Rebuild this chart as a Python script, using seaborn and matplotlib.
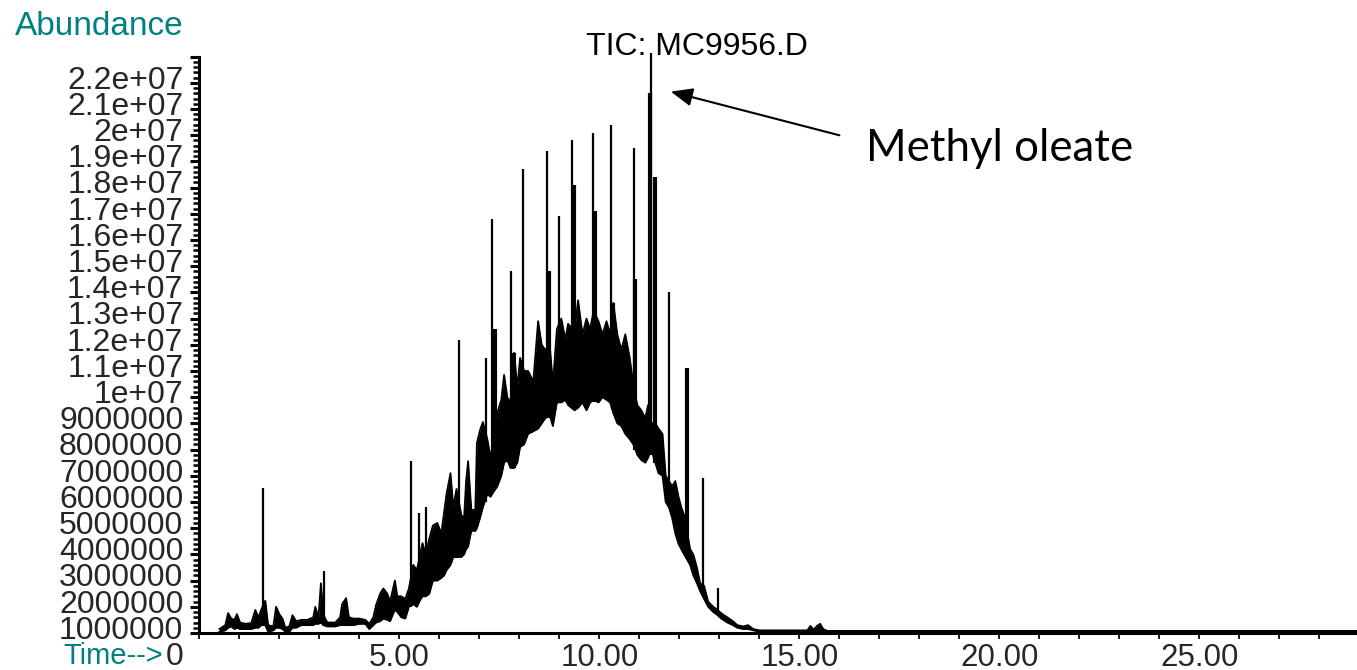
import matplotlib
matplotlib.use('Agg')
import matplotlib.pyplot as plt
import matplotlib.transforms as mtransforms
from matplotlib.ticker import MultipleLocator
import seaborn as sns

# TIC chromatogram, abundance in units of 1e6, time in minutes
# envelope of the dense trace (lower / upper edge)
envTime = [0.50, 0.65, 0.72, 0.80, 0.88, 0.94, 1.02, 1.15, 1.30, 1.40,
           1.48, 1.55, 1.65, 1.72, 1.85, 1.92, 2.00, 2.08, 2.15, 2.25,
           2.33, 2.42, 2.55, 2.70, 2.85, 2.90, 2.98, 3.04, 3.10, 3.20,
           3.40, 3.52, 3.57, 3.67, 3.74, 3.85, 4.00, 4.15, 4.25, 4.35,
           4.42, 4.52, 4.60, 4.70, 4.77, 4.89, 4.95, 5.05, 5.15, 5.24,
           5.35, 5.44, 5.52, 5.58, 5.66, 5.75, 5.84, 5.95, 6.05, 6.12,
           6.18, 6.28, 6.35, 6.43, 6.55, 6.62, 6.67, 6.72, 6.80, 6.90,
           6.94, 7.02, 7.09, 7.20, 7.28, 7.36, 7.45, 7.55, 7.62, 7.70,
           7.78, 7.87, 7.95, 8.02, 8.12, 8.22, 8.35, 8.47, 8.56, 8.65,
           8.76, 8.84, 8.94, 9.05, 9.15, 9.22, 9.38, 9.47, 9.58, 9.68,
           9.77, 9.86, 9.98, 10.08, 10.18, 10.27, 10.35, 10.45, 10.55, 10.65,
           10.76, 10.85, 10.95, 11.05, 11.15, 11.22, 11.30, 11.40, 11.48, 11.58,
           11.66, 11.74, 11.82, 11.90, 11.98, 12.05, 12.12, 12.27, 12.35, 12.44,
           12.52, 12.62, 12.72, 12.85, 12.94, 13.05, 13.20, 13.34, 13.45, 13.60,
           13.72, 13.85, 14.00, 15.20, 15.28, 15.36, 15.44, 15.52, 15.60, 15.70, 28.94]
envLow = [0.05, 0.10, 0.20, 0.25, 0.15, 0.20, 0.15, 0.15, 0.15, 0.20,
          0.20, 0.30, 0.30, 0.05, 0.10, 0.20, 0.20, 0.15, 0.05, 0.05,
          0.20, 0.20, 0.30, 0.30, 0.30, 0.35, 0.35, 0.40, 0.30, 0.25,
          0.25, 0.30, 0.30, 0.30, 0.30, 0.30, 0.35, 0.35, 0.15, 0.30,
          0.40, 0.45, 0.55, 0.50, 0.45, 0.90, 0.80, 0.60, 0.55, 1.00,
          1.10, 1.00, 1.26, 1.40, 1.40, 1.50, 2.00, 2.00, 2.10, 2.20,
          2.40, 2.60, 2.90, 2.90, 2.90, 3.00, 3.20, 3.30, 3.90, 3.90,
          4.00, 4.40, 4.80, 5.30, 5.20, 5.40, 5.60, 6.00, 6.50, 6.60,
          6.30, 6.30, 6.50, 7.10, 7.20, 7.60, 7.70, 7.80, 8.00, 8.20,
          8.30, 7.90, 8.80, 8.80, 8.90, 8.70, 8.50, 8.60, 8.80, 8.50,
          8.80, 8.90, 8.80, 9.00, 8.90, 8.80, 8.40, 8.00, 7.90, 7.60,
          7.40, 7.20, 6.80, 6.60, 6.50, 6.70, 7.00, 6.50, 6.10, 6.00,
          5.00, 4.80, 4.40, 3.80, 3.40, 3.20, 3.00, 2.60, 2.20, 1.90,
          1.60, 1.30, 1.00, 0.80, 0.70, 0.55, 0.40, 0.30, 0.20, 0.15,
          0.15, 0.10, 0.05, 0.05, 0.05, 0.05, 0.05, 0.05, 0.05, 0.05, 0.05]
envHigh = [0.15, 0.30, 0.76, 0.55, 0.50, 0.72, 0.40, 0.35, 0.38, 0.88,
           0.60, 0.90, 1.23, 0.30, 0.25, 1.00, 0.72, 0.55, 0.20, 0.25,
           0.68, 0.45, 0.50, 0.50, 0.60, 1.00, 0.60, 1.90, 0.70, 0.40,
           0.40, 0.60, 1.10, 1.33, 0.60, 0.55, 0.55, 0.50, 0.35, 0.60,
           1.07, 1.50, 1.70, 1.50, 1.20, 2.00, 1.40, 1.40, 1.30, 1.70,
           2.60, 2.40, 3.00, 3.43, 3.00, 3.60, 4.10, 4.20, 3.80, 4.60,
           5.30, 6.10, 4.80, 5.50, 4.50, 4.40, 5.80, 6.56, 4.70, 4.70,
           7.25, 7.75, 8.05, 7.40, 6.70, 7.40, 8.40, 8.90, 9.85, 9.00,
           8.80, 10.70, 9.35, 10.50, 10.00, 10.00, 9.60, 11.90, 11.00, 10.80,
           11.00, 9.50, 11.60, 12.00, 11.20, 11.80, 11.50, 12.70, 11.40, 12.00,
           11.60, 12.30, 11.90, 11.40, 11.90, 11.40, 12.60, 11.40, 10.80, 11.40,
           10.50, 9.50, 8.70, 8.50, 8.20, 8.70, 8.00, 8.00, 7.80, 7.60,
           6.00, 5.80, 5.60, 5.80, 5.20, 4.80, 4.50, 3.20, 3.00, 2.50,
           1.90, 1.80, 1.20, 1.00, 0.90, 0.75, 0.60, 0.45, 0.30, 0.25,
           0.30, 0.15, 0.10, 0.10, 0.27, 0.12, 0.27, 0.35, 0.15, 0.08, 0.08]

# thin single-scan spikes
spikeTime = [1.59, 3.12, 5.28, 5.49, 5.66, 6.49, 7.17, 7.32, 7.79, 8.09,
             8.69, 8.99, 9.32, 9.83, 10.29, 10.87, 11.29, 11.74, 12.59, 12.97]
spikeBase = [0.30, 0.50, 1.00, 1.30, 1.40, 2.90, 5.00, 5.50, 6.50, 7.20,
             8.20, 8.80, 8.60, 8.80, 8.80, 7.30, 6.80, 4.80, 1.50, 0.80]
spikeTop = [5.53, 2.37, 6.56, 4.58, 4.80, 11.20, 10.50, 15.80, 13.80, 17.70,
            18.40, 15.90, 18.80, 19.10, 19.40, 18.50, 22.15, 13.00, 5.90, 1.70]

# the thicker bodies under the big peaks
bodyTime = [7.38, 7.87, 8.74, 9.37, 9.90, 10.35, 10.90, 11.26, 11.38, 12.18]
bodyBase = [5.50, 6.30, 8.20, 8.60, 8.80, 8.50, 7.00, 6.80, 6.50, 2.90]
bodyTop = [11.60, 10.70, 13.80, 17.10, 16.10, 12.60, 13.50, 20.60, 17.40, 10.10]

yTicks = list(range(0, 23))
yTickLabels = ['0', '1000000', '2000000', '3000000', '4000000', '5000000',
               '6000000', '7000000', '8000000', '9000000', '1e+07', '1.1e+07',
               '1.2e+07', '1.3e+07', '1.4e+07', '1.5e+07', '1.6e+07', '1.7e+07',
               '1.8e+07', '1.9e+07', '2e+07', '2.1e+07', '2.2e+07']
xTicks = [5, 10, 15, 20, 25]
xTickLabels = ['5.00', '10.00', '15.00', '20.00', '25.00']

teal = '#008080'

sns.set_theme(style='white')
plt.rcParams['font.family'] = ['Liberation Sans', 'DejaVu Sans']

W, H = 1357, 670
fig = plt.figure(figsize=(W / 100, H / 100), dpi=100)
# axes placed in pixels: x=0 at 199 px, 40 px per minute, y=0 at 633 px, 26.2 px per 1e6
ax = fig.add_axes([199.3 / W, 37 / H, (W - 199.3) / W, 22 * 26.2 / H])
ax.set_xlim(0, (W - 199.3) / 40)
ax.set_ylim(0, 22)

# the trace: band between envelopes plus spikes
ax.fill_between(envTime, envLow, envHigh, color='black', lw=0)
sns.lineplot(x=envTime, y=envHigh, ax=ax, color='black', lw=1.3, estimator=None)
sns.lineplot(x=envTime, y=envLow, ax=ax, color='black', lw=1.3, estimator=None)
ax.vlines(bodyTime, bodyBase, bodyTop, color='black', lw=3.0, clip_on=False)
ax.vlines(spikeTime, spikeBase, spikeTop, color='black', lw=1.6, clip_on=False)

# ChemStation-ish axes
for s in ['top', 'right']:
    ax.spines[s].set_visible(False)
for s in ['left', 'bottom']:
    ax.spines[s].set_color('black')
    ax.spines[s].set_linewidth(2.2)

ax.set_yticks(yTicks, labels=yTickLabels, fontsize=23)
ax.yaxis.set_minor_locator(MultipleLocator(0.2))
ax.tick_params(axis='y', which='major', direction='out', length=6.5, width=2.2,
               pad=5, color='black', left=True)
ax.tick_params(axis='y', which='minor', direction='out', length=4.3, width=1.8,
               color='black', left=True)

ax.set_xticks(xTicks, labels=xTickLabels, fontsize=22.5)
ax.xaxis.set_minor_locator(MultipleLocator(1))
ax.tick_params(axis='x', which='both', direction='out', length=4, width=1.3,
               pad=3, color='black', bottom=True)

ax.set_xlabel('')
ax.set_ylabel('')
ax.grid(False)

# y labels sit below their ticks in the original
shift = mtransforms.ScaledTranslation(0, -32 / 100, fig.dpi_scale_trans)
for lab in ax.get_yticklabels():
    lab.set_transform(lab.get_transform() + shift)
    lab.set_verticalalignment('baseline')

fig.text(15 / W, (H - 35) / H, 'Abundance', color=teal, fontsize=24, va='baseline')
fig.text(63 / W, (H - 664) / H, 'Time-->', color=teal, fontsize=21, va='baseline')
fig.text(697 / W, (H - 55) / H, 'TIC: MC9956.D', color='black', fontsize=23,
         ha='center', va='baseline')

# annotation
ax.annotate('', xy=(11.72, 20.69), xytext=(16.07, 18.97),
            arrowprops=dict(arrowstyle='-|>,head_length=0.6,head_width=0.25',
                            color='black', lw=1.5, mutation_scale=22),
            annotation_clip=False)
fig.text(866 / W, (H - 161) / H, 'Methyl oleate', fontsize=31.5,
         family=['Lato', 'DejaVu Sans'], va='baseline', color='black')

fig.savefig('out.png', dpi=100)
